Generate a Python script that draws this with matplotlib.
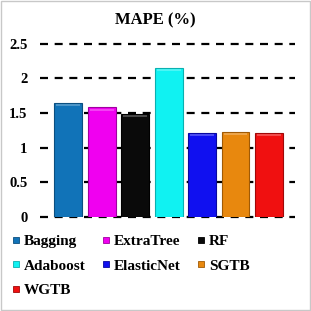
import numpy as np
import matplotlib
matplotlib.use('Agg')
import matplotlib.pyplot as plt
from matplotlib.patches import Rectangle
from matplotlib.lines import Line2D

# Data
models = ['Bagging', 'ExtraTree', 'RF', 'Adaboost', 'ElasticNet', 'SGTB', 'WGTB']
mape = [1.65, 1.58, 1.49, 2.15, 1.21, 1.23, 1.21]
colors = ['#1173B8', '#F000F0', '#0A0A0A', '#10F2F2', '#1010F0', '#E8880E', '#F01010']
edges = ['#0B4F80', '#A000A0', '#000000', '#0AB0B0', '#0808A0', '#A05A05', '#A00808']
yticks = [0, 0.5, 1, 1.5, 2, 2.5]

plt.rcParams['font.family'] = 'Liberation Serif'
plt.rcParams['font.weight'] = 'bold'

fig = plt.figure(figsize=(3.11, 3.11), dpi=100)
ax = fig.add_axes([0.129, 0.303, 0.820, 0.556])

x = np.arange(len(models))
bars = ax.bar(x, mape, width=0.83, color=colors, edgecolor=edges, linewidth=0.8, zorder=3)

# light top highlight for the bevelled look
for b in bars:
    ax.add_patch(Rectangle((b.get_x() + 0.06, b.get_height() - 0.045), b.get_width() - 0.12, 0.025,
                           facecolor='white', alpha=0.25, linewidth=0, zorder=4))

ax.set_xlim(-0.84, 6.78)
ax.set_ylim(0, 2.5)
ax.set_yticks(yticks)
ax.set_yticklabels(['0', '0.5', '1', '1.5', '2', '2.5'], fontsize=10.5, fontweight='bold')
ax.set_xticks([])
ax.tick_params(axis='y', length=0, pad=9)
for s in ax.spines.values():
    s.set_visible(False)
ax.yaxis.grid(True, color='black', linewidth=1.6, linestyle=(0, (3.6, 3.0)), zorder=1)
for gl in ax.get_ygridlines():
    gl.set_clip_on(False)
ax.set_axisbelow(True)

# title is centred on the whole figure, not on the axes
fig.text(0.5, 1 - 20 / 311, 'MAPE (%)', ha='center', va='center', fontsize=12, fontweight='bold')

# matplotlib fills legend columns first, so reorder to read row by row
order = [0, 3, 6, 1, 4, 2, 5]
handles = [Line2D([], [], marker='s', linestyle='none', markersize=5,
                  markerfacecolor=colors[i], markeredgecolor=edges[i], markeredgewidth=0.6)
           for i in order]
fig.legend(handles, [models[i] for i in order], loc='upper left', bbox_to_anchor=(-0.005, 0.29),
           ncol=3, frameon=False, handlelength=0.5, handletextpad=0.25, columnspacing=1.1,
           labelspacing=0.7, prop={'family': 'Liberation Serif', 'weight': 'bold', 'size': 11})

fig.add_artist(Rectangle((0.002, 0.002), 0.996, 0.996, transform=fig.transFigure,
                         fill=False, edgecolor='#c8c8c8', linewidth=1))

fig.savefig('out.png', dpi=100)
